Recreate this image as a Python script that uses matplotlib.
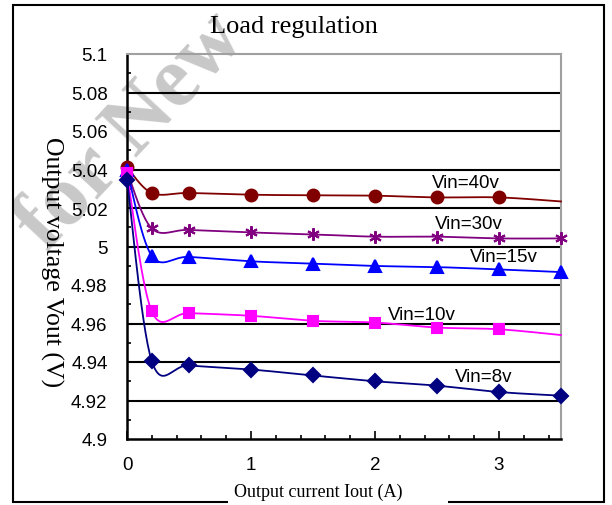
import numpy as np
import matplotlib.pyplot as plt
from matplotlib.patches import Rectangle
from matplotlib.ticker import MultipleLocator, FixedLocator

# load current (A) and measured output voltage (V) per input voltage
iout = [0, 0.2, 0.5, 1, 1.5, 2, 2.5, 3, 3.5]
v40 = [5.0412, 5.0278, 5.0278, 5.0269, 5.0266, 5.0264, 5.0255, 5.0255, 5.0234]
v30 = [5.0390, 5.0094, 5.0086, 5.0073, 5.0063, 5.0051, 5.0051, 5.0042, 5.0042]
v15 = [5.0395, 4.9951, 4.9946, 4.9923, 4.9911, 4.9899, 4.9893, 4.9881, 4.9867]
v10 = [5.0380, 4.9663, 4.9654, 4.9640, 4.9614, 4.9605, 4.9579, 4.9570, 4.9540]
v8 = [5.0348, 4.9404, 4.9382, 4.9361, 4.9330, 4.9300, 4.9277, 4.9244, 4.9225]

labels = ["Vin=40v", "Vin=30v", "Vin=15v", "Vin=10v", "Vin=8v"]
yticks = [4.9, 4.92, 4.94, 4.96, 4.98, 5.0, 5.02, 5.04, 5.06, 5.08, 5.1]
ytick_labels = ["4.9", "4.92", "4.94", "4.96", "4.98", "5", "5.02", "5.04", "5.06", "5.08", "5.1"]


def smooth(x, y, n=30):
    # spreadsheet-style smoothed line: cubic Bezier through each pair of points
    x = np.asarray(x, float)
    y = np.asarray(y, float)
    px = np.concatenate([[x[0]], x, [x[-1]]])
    py = np.concatenate([[y[0]], y, [y[-1]]])
    xs, ys = [], []
    t = np.linspace(0, 1, n)
    for i in range(1, len(px) - 2):
        p0 = np.array([px[i], py[i]])
        p3 = np.array([px[i + 1], py[i + 1]])
        p1 = p0 + (np.array([px[i + 1], py[i + 1]]) - np.array([px[i - 1], py[i - 1]])) / 6
        p2 = p3 - (np.array([px[i + 2], py[i + 2]]) - np.array([px[i], py[i]])) / 6
        b = ((1 - t) ** 3)[:, None] * p0 + (3 * (1 - t) ** 2 * t)[:, None] * p1 \
            + (3 * (1 - t) * t ** 2)[:, None] * p2 + (t ** 3)[:, None] * p3
        xs.extend(b[:, 0])
        ys.extend(b[:, 1])
    return np.array(xs), np.array(ys)


fig = plt.figure(figsize=(6.12, 5.06), dpi=100)
W, H = 612, 506

# faint watermark behind the chart
fig.text(132 / W, 1 - 132 / H, "for New", fontsize=62, family="Liberation Serif",
         fontweight="bold", color="#c8c8c8", rotation=47, ha="center", va="center",
         zorder=-1)

ax = fig.add_axes([127 / W, 1 - 440 / H, 434 / W, 385 / H])
ax.set_facecolor("none")

series = [
    (v40, "#800000", "o", 8.5, list(range(8))),
    (v30, "#800080", (6, 2, 0), 9, list(range(9))),
    (v15, "#0000ff", "^", 9, list(range(9))),
    (v10, "#ff00ff", "s", 7.5, list(range(8))),
    (v8, "#000080", "D", 7, list(range(9))),
]
for vals, color, marker, ms, every in series:
    sx, sy = smooth(iout, vals)
    ax.plot(sx, sy, color=color, lw=1.3, zorder=3, clip_on=False)
    ax.plot(np.array(iout)[every], np.array(vals)[every], ls="none", marker=marker,
            ms=ms, color=color, mec=color, mew=1.5, zorder=4, clip_on=False)

# series labels
label_pos = [(432, 183), (435, 225), (470, 258), (388, 316), (455, 378)]
for text, (px, py) in zip(labels, label_pos):
    fig.text(px / W, 1 - py / H, text, fontsize=13.5, family="Liberation Sans",
             ha="left", va="center")

ax.set_xlim(0, 3.5)
ax.set_ylim(4.9, 5.1)
ax.xaxis.set_major_locator(FixedLocator([0, 1, 2, 3]))
ax.xaxis.set_minor_locator(MultipleLocator(0.2))
ax.set_yticks(yticks)
ax.set_yticklabels(ytick_labels)
ax.yaxis.set_minor_locator(MultipleLocator(0.01))

for y in yticks[1:-1]:
    ax.axhline(y, color="black", lw=1.5, zorder=1)

ax.tick_params(axis="both", which="both", direction="in", colors="black",
               labelsize=13.5)
ax.tick_params(axis="x", which="major", length=6, width=1.2, pad=12)
ax.tick_params(axis="x", which="minor", length=3, width=1.2)
ax.tick_params(axis="y", which="major", length=0, pad=14)
ax.tick_params(axis="y", which="minor", length=3, width=1.2)
for lab in ax.get_xticklabels() + ax.get_yticklabels():
    lab.set_family("Liberation Sans")

ax.spines["left"].set_linewidth(1.8)
ax.spines["bottom"].set_linewidth(1.8)
ax.spines["top"].set_color("#a0a0a0")
ax.spines["right"].set_color("#a0a0a0")
ax.spines["top"].set_linewidth(1.5)
ax.spines["right"].set_linewidth(1.5)

fig.text(294 / W, 1 - 27 / H, "Load regulation", fontsize=19, family="Liberation Serif",
         ha="center", va="center")
fig.text(52 / W, 1 - 262 / H, "Output voltage Vout (V)", fontsize=18.5,
         family="Liberation Serif", rotation=-90, ha="center", va="center")

# outer frame, broken under the x-axis title
fig.patches.append(Rectangle((13 / W, 3 / H), 591 / W, 497 / H, transform=fig.transFigure,
                             fill=False, edgecolor="black", lw=1.5, zorder=1))
fig.patches.append(Rectangle((228 / W, 0), 220 / W, 12 / H, transform=fig.transFigure,
                             facecolor="white", edgecolor="none", zorder=2))
fig.text(318 / W, 1 - 492 / H, "Output current Iout (A)", fontsize=13,
         family="Liberation Serif", ha="center", va="center", zorder=3)

fig.savefig("out.png", dpi=100)
